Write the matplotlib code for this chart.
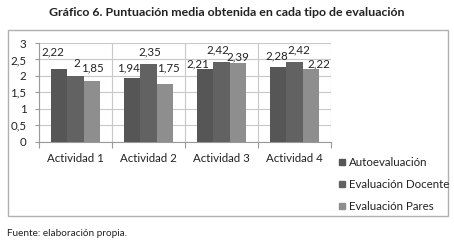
import matplotlib
matplotlib.use("Agg")
import matplotlib.pyplot as plt
import numpy as np
from matplotlib.patches import Rectangle
from matplotlib.lines import Line2D

categories = ["Actividad 1", "Actividad 2", "Actividad 3", "Actividad 4"]
series_names = ["Autoevaluación", "Evaluación Docente", "Evaluación Pares"]
auto = [2.22, 1.94, 2.21, 2.28]
docente = [2.0, 2.35, 2.42, 2.42]
pares = [1.85, 1.75, 2.39, 2.22]
y_ticks = [0, 0.5, 1, 1.5, 2, 2.5, 3]

colors = ["#565656", "#626262", "#8e8e8e"]
# label offsets in pixels (dx, dy up) from bar top centre
offsets = [
    [(-6, 16.7), (-4, 10), (-7, 5), (-1, 10.7)],
    [(1, 12), (1, 12.4), (-4, 12), (4, 12)],
    [(0.5, 12.8), (3.5, 16), (0.5, 6), (8.5, 4.7)],
]

W, H = 454, 247
fig = plt.figure(figsize=(W / 100, H / 100), dpi=100)
plt.rcParams['font.family'] = ['Lato', 'DejaVu Sans']

def fx(px):
    return px / W

def fy(py):
    return 1 - py / H

# outer frame
fig.patches.append(Rectangle((fx(7.5), fy(216)), fx(440), (216 - 29.5) / H,
                             transform=fig.transFigure, fill=False,
                             edgecolor="#b0b0b0", linewidth=1.0))

ax = fig.add_axes([fx(39), fy(141.7), fx(292), 98.7 / H])
x = np.arange(len(categories))
bw = 0.223
series = [auto, docente, pares]
for i, (vals, c) in enumerate(zip(series, colors)):
    pos = x + (i - 1) * bw
    ax.bar(pos, vals, width=bw, color=c, label=series_names[i], zorder=3)
    for j, v in enumerate(vals):
        lab = f"{v:g}".replace(".", ",")
        dx, dy = offsets[i][j]
        ax.annotate(lab, (pos[j], v), xytext=(dx * 0.72, dy * 0.72),
                    textcoords="offset points", ha="center", va="center",
                    fontsize=8.3, color="#222222", zorder=4)

ax.set_xlim(-0.5, len(categories) - 0.5)
ax.set_ylim(0, 3)
ax.set_yticks(y_ticks)
ax.set_yticklabels([f"{t:g}".replace(".", ",") for t in y_ticks], fontsize=8.3, color="#222222")
ax.set_xticks(x)
ax.set_xticklabels(categories, fontsize=8.3, color="#222222")
ax.set_xticks(np.arange(len(categories) + 1) - 0.5, minor=True)
ax.tick_params(axis="x", which="major", length=0, pad=8)
ax.tick_params(axis="x", which="minor", length=4, color="#999999", width=0.8)
ax.tick_params(axis="y", length=3, color="#999999", width=0.8, pad=6)
ax.grid(axis="y", color="#c8c8c8", linewidth=0.8, zorder=0)
ax.grid(axis="x", which="minor", color="#c8c8c8", linewidth=0.8, zorder=0)
for s in ["top", "right"]:
    ax.spines[s].set_visible(False)
ax.spines["left"].set_color("#999999")
ax.spines["bottom"].set_color("#999999")
ax.spines["left"].set_linewidth(0.8)
ax.spines["bottom"].set_linewidth(0.8)

handles = [Line2D([], [], marker="s", linestyle="none", markersize=5,
                  markerfacecolor=c, markeredgecolor=c) for c in colors]
fig.legend(handles, series_names, loc="upper left",
           bbox_to_anchor=(fx(332), fy(151)), frameon=False, fontsize=8.3,
           handlelength=0.7, handletextpad=0.25, labelspacing=0.97,
           borderpad=0, labelcolor="#222222")

fig.text(fx(227), fy(12), "Gráfico 6. Puntuación media obtenida en cada tipo de evaluación",
         ha="center", va="center", fontsize=8.9, fontweight="bold", color="#222222")
fig.text(fx(7), fy(233), "Fuente: elaboración propia.", ha="left", va="center",
         fontsize=7.2, color="#222222")

fig.savefig("out.png", dpi=100)
